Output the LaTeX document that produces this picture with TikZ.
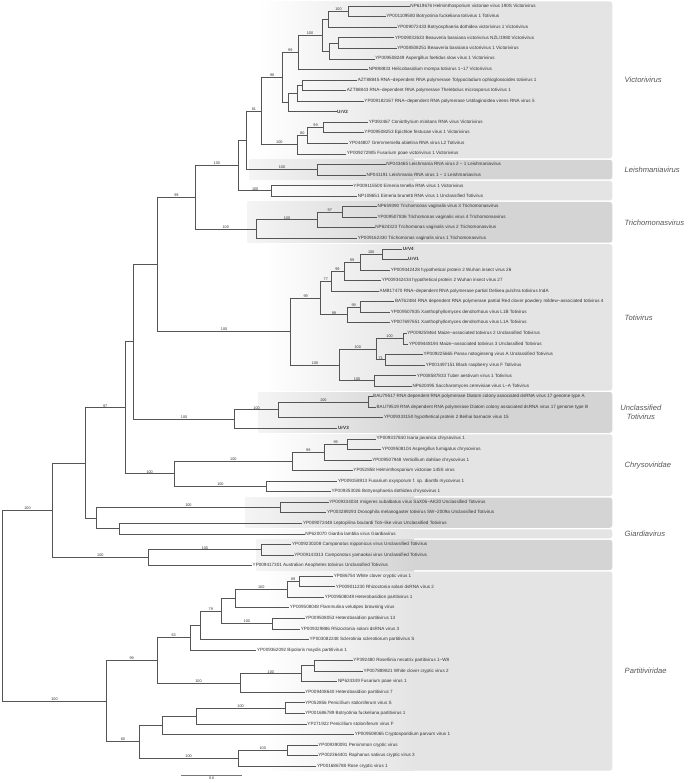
\documentclass[tikz,border=0pt]{standalone}
\usepackage{fontspec}
\setmainfont{Liberation Sans}
\usetikzlibrary{calc}
\definecolor{brc}{HTML}{555555}
\definecolor{txc}{HTML}{333333}
\definecolor{clc}{HTML}{555555}
\definecolor{bxl}{HTML}{E4E4E4}
\definecolor{bxd}{HTML}{D4D4D4}
\newcommand{\cladebox}[5]{%
  \shade[left color=#2, right color=#1] (#3,#4) rectangle (420,#5);
  \fill[#1] (419.5,#4) -- (610,#4) [rounded corners=2.5pt] -- (621,#4) -- (621,#5) -- (610,#5) [sharp corners] -- (419.5,#5) -- cycle;}
\begin{document}
\begin{tikzpicture}[x=0.986pt,y=-1pt,
  branch/.style={draw=brc, line width=0.55pt},
  leaf/.style={anchor=west, inner sep=0.5pt, font=\fontsize{4.6}{5}\selectfont, text=txc},
  bsv/.style={above, inner sep=0.3pt, font=\fontsize{3.8}{4}\selectfont, text=txc},
  clade/.style={anchor=west, font=\fontsize{7.6}{8.4}\selectfont\itshape, text=clc, align=center}]
\useasboundingbox (0pt,0pt) rectangle (687pt,-783pt);
% clade boxes
\cladebox{bxl}{white}{262}{1.5}{158.3}
\cladebox{bxd}{bxd!25}{253}{159.8}{179.4}
\cladebox{bxl}{white}{262}{180.9}{200.5}
\cladebox{bxd}{bxd!25}{251}{202}{242.75}
\cladebox{bxl}{white}{267}{244.25}{390.5}
\cladebox{bxd}{bxd!25}{262}{392}{432.75}
\cladebox{bxl}{white}{267}{434.25}{496.1}
\cladebox{bxd}{bxd!25}{249}{497.6}{527.75}
\cladebox{bxl}{white}{258}{529.25}{538.3}
\cladebox{bxd}{bxd!25}{260}{539.8}{570}
\cladebox{bxl}{white}{267}{571.5}{770.7}
% clade labels
\node[clade] (cv) at (630,80) {Victorivirus};
\node[clade] (cl) at (630,170.2) {Leishmaniavirus};
\node[clade] (ct) at (630,222.6) {Trichomonasvirus};
\node[clade] (cto) at (630,317.4) {Totivirus};
\node[clade,anchor=center] (cu) at (650,412.4) {Unclassified\\Totivirus};
\node[clade] (cc) at (630,465.2) {Chrysoviridae};
\node[clade] (cg) at (630,533.8) {Giardiavirus};
\node[clade] (cp) at (630,671.1) {Partitiviridae};
% leaves
\node[leaf] (l1) at (415.6,6.00) {NP619676 Helminthosporium victoriae virus 190S Victorivirus};
\node[leaf] (l2) at (391.1,16.56) {YP001109580 Botryotinia fuckeliana totivirus 1 Totivirus};
\node[leaf] (l3) at (402.2,27.11) {YP009072433 Botryosphaeria dothidea victorivirus 1 Victorivirus};
\node[leaf] (l4) at (400.0,37.67) {YP009032633 Beauveria bassiana victorivirus NZL/1980 Victorivirus};
\node[leaf] (l5) at (402.2,48.22) {YP008508251 Beauveria bassiana victorivirus 1 Victorivirus};
\node[leaf] (l6) at (380.0,58.78) {YP009508249 Aspergillus foetidus slow virus 1 Victorivirus};
\node[leaf] (l7) at (373.3,69.33) {NP898833 Helicobasidium mompa totivirus 1−17 Victorivirus};
\node[leaf] (l8) at (362.2,79.89) {AZT88845 RNA−dependent RNA polymerase Tolypocladium ophioglossoides totivirus 1};
\node[leaf] (l9) at (351.1,90.44) {AZT88843 RNA−dependent RNA polymerase Thelebolus microsporus totivirus 1};
\node[leaf] (l10) at (368.9,101.00) {YP009182167 RNA−dependent RNA polymerase Ustilaginoidea virens RNA virus 5};
\node[leaf] (l11) at (341.3,111.56) {\textbf{UrV2}};
\node[leaf] (l12) at (373.3,122.11) {YP392467 Coniothyrium minitans RNA virus Victorivirus};
\node[leaf] (l13) at (368.9,132.67) {YP009508253 Epichloe festucae virus 1 Victorivirus};
\node[leaf] (l14) at (353.3,143.22) {YP044807 Gremmeniella abietina RNA virus L2 Totivirus};
\node[leaf] (l15) at (351.1,153.78) {YP009272905 Fusarium poae victorivirus 1 Victorivirus};
\node[leaf] (l16) at (391.1,164.33) {NP043465 Leishmania RNA virus 2 − 1 Leishmaniavirus};
\node[leaf] (l17) at (371.1,174.89) {NP041191 Leishmania RNA virus 1 − 1 Leishmaniavirus};
\node[leaf] (l18) at (357.8,185.44) {YP009115500 Eimeria tenella RNA virus 1 Victorivirus};
\node[leaf] (l19) at (362.2,196.00) {NP108651 Eimeria brunetti RNA virus 1 Unclassified Totivirus};
\node[leaf] (l20) at (382.2,206.56) {NP659390 Trichomonas vaginalis virus 3 Trichomonasvirus};
\node[leaf] (l21) at (382.2,217.11) {YP009507836 Trichomonas vaginalis virus 4 Trichomonasvirus};
\node[leaf] (l22) at (380.0,227.67) {NP624323 Trichomonas vaginalis virus 2 Trichomonasvirus};
\node[leaf] (l23) at (362.2,238.22) {YP009162330 Trichomonas vaginalis virus 1 Trichomonasvirus};
\node[leaf] (l24) at (408.0,248.78) {\textbf{UrV4}};
\node[leaf] (l25) at (413.3,259.33) {\textbf{UrV1}};
\node[leaf] (l26) at (395.6,269.89) {YP009342428 hypothetical protein 2 Wuhan insect virus 26};
\node[leaf] (l27) at (386.7,280.44) {YP009342434 hypothetical protein 2 Wuhan insect virus 27};
\node[leaf] (l28) at (384.4,291.00) {AMB17470 RNA−dependent RNA polymerase partial Delisea pulchra totivirus IndA};
\node[leaf] (l29) at (400.0,301.56) {BAT62484 RNA dependent RNA polymerase partial Red clover powdery mildew−associated totivirus 4};
\node[leaf] (l30) at (395.6,312.11) {YP009507835 Xanthophyllomyces dendrorhous virus L1B Totivirus};
\node[leaf] (l31) at (395.6,322.67) {YP007697651 Xanthophyllomyces dendrorhous virus L1A Totivirus};
\node[leaf] (l32) at (412.4,333.22) {YP009259464 Maize−associated totivirus 2 Unclassified Totivirus};
\node[leaf] (l33) at (414.2,343.78) {YP009448194 Maize−associated totivirus 3 Unclassified Totivirus};
\node[leaf] (l34) at (428.9,354.33) {YP009225665 Panax notoginseng virus A Unclassified Totivirus};
\node[leaf] (l35) at (431.1,364.89) {YP001497151 Black raspberry virus F Totivirus};
\node[leaf] (l36) at (422.2,375.44) {YP008587833 Tuber aestivum virus 1 Totivirus};
\node[leaf] (l37) at (417.8,386.00) {NP620495 Saccharomyces cerevisiae virus L−A Totivirus};
\node[leaf] (l38) at (377.8,396.56) {BAU79517 RNA dependent RNA polymerase Diatom colony associated dsRNA virus 17 genome type A};
\node[leaf] (l39) at (381.3,407.11) {BAU79519 RNA dependent RNA polymerase Diatom colony associated dsRNA virus 17 genome type B};
\node[leaf] (l40) at (388.9,417.67) {YP009333150 hypothetical protein 2 Beihai barnacle virus 15};
\node[leaf] (l41) at (342.2,428.22) {\textbf{UrV3}};
\node[leaf] (l42) at (381.3,438.78) {YP009337840 Isaria javanica chrysovirus 1};
\node[leaf] (l43) at (386.7,449.33) {YP009508104 Aspergillus fumigatus chrysovirus};
\node[leaf] (l44) at (376.9,459.89) {YP009507948 Verticillium dahliae chrysovirus 1};
\node[leaf] (l45) at (357.8,470.44) {YP052858 Helminthosporium victoriae 145S virus};
\node[leaf] (l46) at (342.2,481.00) {YP009158913 Fusarium oxysporum f. sp. dianthi mycovirus 1};
\node[leaf] (l47) at (335.6,491.56) {YP009353026 Botryosphaeria dothidea chrysovirus 1};
\node[leaf] (l48) at (333.3,502.11) {YP009334034 rmigeres subalbatus virus SaX06−AK20 Unclassified Totivirus};
\node[leaf] (l49) at (331.1,512.67) {YP003289293 Drosophila melanogaster totivirus SW−2009a Unclassified Totivirus};
\node[leaf] (l50) at (306.7,523.22) {YP009072448 Leptopilina boulardi Toti−like virus Unclassified Totivirus};
\node[leaf] (l51) at (308.9,533.78) {NP620070 Giardia lamblia virus Giardiavirus};
\node[leaf] (l52) at (295.6,544.33) {YP009230208 Camponotus nipponicus virus Unclassified Totivirus};
\node[leaf] (l53) at (297.8,554.89) {YP009143313 Camponotus yamaokai virus Unclassified Totivirus};
\node[leaf] (l54) at (255.6,565.44) {YP009417301 Australian Anopheles totivirus Unclassified Totivirus};
\node[leaf] (l55) at (337.8,576.00) {YP086754 White clover cryptic virus 1};
\node[leaf] (l56) at (340.0,586.56) {YP009011230 Rhizoctonia solani dsRNA virus 2};
\node[leaf] (l57) at (328.9,597.11) {YP009508049 Heterobasidion partitivirus 1};
\node[leaf] (l58) at (293.3,607.67) {YP009508048 Flammulina velutipes browning virus};
\node[leaf] (l59) at (308.9,618.22) {YP009508053 Heterobasidion partitivirus 13};
\node[leaf] (l60) at (304.4,628.78) {YP009329886 Rhizoctonia solani dsRNA virus 3};
\node[leaf] (l61) at (313.3,639.33) {YP003082248 Sclerotinia sclerotiorum partitivirus S};
\node[leaf] (l62) at (260.0,649.89) {YP009362092 Bipolaris maydis partitivirus 1};
\node[leaf] (l63) at (357.8,660.44) {YP392480 Rosellinia necatrix partitivirus 1−W8};
\node[leaf] (l64) at (368.0,671.00) {YP007889821 White clover cryptic virus 2};
\node[leaf] (l65) at (342.2,681.56) {NP624349 Fusarium poae virus 1};
\node[leaf] (l66) at (308.9,692.11) {YP009408640 Heterobasidion partitivirus 7};
\node[leaf] (l67) at (308.9,702.67) {YP052856 Penicillium stoloniferum virus S};
\node[leaf] (l68) at (308.9,713.22) {YP001686789 Botryotinia fuckeliana partitivirus 1};
\node[leaf] (l69) at (311.1,723.78) {YP271922 Penicillium stoloniferum virus F};
\node[leaf] (l70) at (359.1,734.33) {YP009508065 Cryptosporidium parvum virus 1};
\node[leaf] (l71) at (322.2,744.89) {YP009390091 Persimmon cryptic virus};
\node[leaf] (l72) at (322.2,755.44) {YP002364401 Raphanus sativus cryptic virus 3};
\node[leaf] (l73) at (320.9,766.00) {YP001686788 Rose cryptic virus 1};
% internal nodes
\coordinate (A) at (353.3,11.28);
\coordinate (B) at (333.3,19.19);
\coordinate (C) at (343.1,42.94);
\coordinate (D) at (334.2,50.86);
\coordinate (E) at (326.7,35.03);
\coordinate (F) at (302.2,52.18);
\coordinate (I) at (306.7,85.17);
\coordinate (J) at (301.3,93.08);
\coordinate (K) at (292.4,102.32);
\coordinate (G) at (286.7,77.25);
\coordinate (Q) at (328.0,127.39);
\coordinate (R) at (312.0,135.31);
\coordinate (S) at (301.3,144.54);
\coordinate (N) at (265.3,110.90);
\coordinate (U) at (322.2,169.61);
\coordinate (V) at (249.8,140.25);
\coordinate (X) at (275.6,190.72);
\coordinate (W) at (242.0,165.49);
\coordinate (Z1) at (346.7,211.83);
\coordinate (Z2) at (322.2,219.75);
\coordinate (Z3) at (260.0,228.99);
\coordinate (Y) at (197.8,197.24);
\coordinate (T1) at (387.6,254.06);
\coordinate (T2) at (365.3,261.97);
\coordinate (T3) at (348.9,271.20);
\coordinate (T4) at (335.6,281.10);
\coordinate (T5) at (365.3,306.83);
\coordinate (T6) at (352.0,314.75);
\coordinate (T7) at (325.3,297.93);
\coordinate (M1) at (408.9,338.50);
\coordinate (M2) at (391.0,359.61);
\coordinate (M3) at (381.3,349.06);
\coordinate (M4) at (380.0,380.72);
\coordinate (M5) at (344.4,364.89);
\coordinate (T8) at (294.7,331.41);
\coordinate (AA) at (160.0,264.33);
\coordinate (U1) at (373.3,401.83);
\coordinate (U2) at (282.7,409.75);
\coordinate (U3) at (237.8,418.99);
\coordinate (BB) at (135.6,341.66);
\coordinate (C1) at (352.0,444.06);
\coordinate (C2) at (328.9,451.97);
\coordinate (C3) at (296.4,461.20);
\coordinate (C4) at (270.2,486.28);
\coordinate (C5) at (176.9,473.74);
\coordinate (CC) at (126.7,407.70);
\coordinate (G1) at (284.4,507.39);
\coordinate (G2) at (120.9,528.50);
\coordinate (G3) at (97.8,517.95);
\coordinate (DD) at (86.7,462.83);
\coordinate (K1) at (265.3,549.61);
\coordinate (K2) at (150.2,557.53);
\coordinate (EE) at (53.3,510.18);
\coordinate (P1) at (303.6,581.28);
\coordinate (P2) at (291.1,589.20);
\coordinate (P3) at (238.7,598.43);
\coordinate (P4) at (276.4,623.50);
\coordinate (P5) at (224.4,610.97);
\coordinate (P6) at (203.1,625.15);
\coordinate (P7) at (193.3,637.52);
\coordinate (R1) at (319.1,665.72);
\coordinate (R2) at (305.8,673.64);
\coordinate (R3) at (243.6,682.88);
\coordinate (P8) at (159.1,660.20);
\coordinate (S1) at (288.9,707.94);
\coordinate (S2) at (199.1,715.86);
\coordinate (S3) at (164.4,725.10);
\coordinate (S4) at (291.6,750.17);
\coordinate (S5) at (241.3,758.08);
\coordinate (S6) at (141.3,741.59);
\coordinate (PP) at (108.0,700.90);
\coordinate (root) at (2.5,605.54);
% branches
\draw[branch] (A) |- (l1.west); \draw[branch] (A) |- (l2.west);
\draw[branch] (B) |- node[bsv,pos=0.75]{100} (A); \draw[branch] (B) |- (l3.west);
\draw[branch] (C) |- (l4.west); \draw[branch] (C) |- (l5.west);
\draw[branch] (D) |- (C); \draw[branch] (D) |- (l6.west);
\draw[branch] (E) |- (B); \draw[branch] (E) |- (D);
\draw[branch] (F) |- node[bsv,pos=0.75]{100} (E); \draw[branch] (F) |- (l7.west);
\draw[branch] (I) |- (l8.west); \draw[branch] (I) |- (l9.west);
\draw[branch] (J) |- (I); \draw[branch] (J) |- (l10.west);
\draw[branch] (K) |- (J); \draw[branch] (K) |- (l11.west);
\draw[branch] (G) |- node[bsv,pos=0.75]{99} (F); \draw[branch] (G) |- (K);
\draw[branch] (Q) |- (l12.west); \draw[branch] (Q) |- (l13.west);
\draw[branch] (R) |- node[bsv,pos=0.75]{99} (Q); \draw[branch] (R) |- (l14.west);
\draw[branch] (S) |- node[bsv,pos=0.75]{80} (R); \draw[branch] (S) |- (l15.west);
\draw[branch] (N) |- node[bsv,pos=0.75]{98} (G); \draw[branch] (N) |- node[bsv,pos=0.75]{100} (S);
\draw[branch] (U) |- (l16.west); \draw[branch] (U) |- (l17.west);
\draw[branch] (V) |- node[bsv,pos=0.75]{81} (N); \draw[branch] (V) |- node[bsv,pos=0.75]{100} (U);
\draw[branch] (X) |- (l18.west); \draw[branch] (X) |- (l19.west);
\draw[branch] (W) |- (V); \draw[branch] (W) |- node[bsv,pos=0.75]{100} (X);
\draw[branch] (Z1) |- (l20.west); \draw[branch] (Z1) |- (l21.west);
\draw[branch] (Z2) |- node[bsv,pos=0.75]{97} (Z1); \draw[branch] (Z2) |- (l22.west);
\draw[branch] (Z3) |- node[bsv,pos=0.75]{100} (Z2); \draw[branch] (Z3) |- (l23.west);
\draw[branch] (Y) |- node[bsv,pos=0.75]{100} (W); \draw[branch] (Y) |- node[bsv,pos=0.75]{100} (Z3);
\draw[branch] (T1) |- (l24.west); \draw[branch] (T1) |- (l25.west);
\draw[branch] (T2) |- node[bsv,pos=0.75]{100} (T1); \draw[branch] (T2) |- (l26.west);
\draw[branch] (T3) |- node[bsv,pos=0.75]{99} (T2); \draw[branch] (T3) |- (l27.west);
\draw[branch] (T4) |- node[bsv,pos=0.75]{99} (T3); \draw[branch] (T4) |- (l28.west);
\draw[branch] (T5) |- (l29.west); \draw[branch] (T5) |- (l30.west);
\draw[branch] (T6) |- node[bsv,pos=0.75]{99} (T5); \draw[branch] (T6) |- (l31.west);
\draw[branch] (T7) |- node[bsv,pos=0.75]{77} (T4); \draw[branch] (T7) |- node[bsv,pos=0.75]{99} (T6);
\draw[branch] (M1) |- (l32.west); \draw[branch] (M1) |- (l33.west);
\draw[branch] (M2) |- (l34.west); \draw[branch] (M2) |- (l35.west);
\draw[branch] (M3) |- node[bsv,pos=0.75]{100} (M1); \draw[branch] (M3) |- node[bsv,pos=0.75]{71} (M2);
\draw[branch] (M4) |- (l36.west); \draw[branch] (M4) |- (l37.west);
\draw[branch] (M5) |- node[bsv,pos=0.75]{100} (M3); \draw[branch] (M5) |- node[bsv,pos=0.75]{100} (M4);
\draw[branch] (T8) |- node[bsv,pos=0.75]{99} (T7); \draw[branch] (T8) |- node[bsv,pos=0.75]{100} (M5);
\draw[branch] (AA) |- node[bsv,pos=0.75]{99} (Y); \draw[branch] (AA) |- node[bsv,pos=0.75]{100} (T8);
\draw[branch] (U1) |- (l38.west); \draw[branch] (U1) |- (l39.west);
\draw[branch] (U2) |- node[bsv,pos=0.75]{100} (U1); \draw[branch] (U2) |- (l40.west);
\draw[branch] (U3) |- node[bsv,pos=0.75]{100} (U2); \draw[branch] (U3) |- (l41.west);
\draw[branch] (BB) |- (AA); \draw[branch] (BB) |- node[bsv,pos=0.75]{100} (U3);
\draw[branch] (C1) |- (l42.west); \draw[branch] (C1) |- (l43.west);
\draw[branch] (C2) |- node[bsv,pos=0.75]{99} (C1); \draw[branch] (C2) |- (l44.west);
\draw[branch] (C3) |- node[bsv,pos=0.75]{99} (C2); \draw[branch] (C3) |- (l45.west);
\draw[branch] (C4) |- (l46.west); \draw[branch] (C4) |- (l47.west);
\draw[branch] (C5) |- node[bsv,pos=0.75]{100} (C3); \draw[branch] (C5) |- node[bsv,pos=0.75]{100} (C4);
\draw[branch] (CC) |- (BB); \draw[branch] (CC) |- node[bsv,pos=0.75]{100} (C5);
\draw[branch] (G1) |- (l48.west); \draw[branch] (G1) |- (l49.west);
\draw[branch] (G2) |- (l50.west); \draw[branch] (G2) |- (l51.west);
\draw[branch] (G3) |- node[bsv,pos=0.75]{100} (G1); \draw[branch] (G3) |- (G2);
\draw[branch] (DD) |- node[bsv,pos=0.75]{97} (CC); \draw[branch] (DD) |- (G3);
\draw[branch] (K1) |- (l52.west); \draw[branch] (K1) |- (l53.west);
\draw[branch] (K2) |- node[bsv,pos=0.75]{100} (K1); \draw[branch] (K2) |- (l54.west);
\draw[branch] (EE) |- (DD); \draw[branch] (EE) |- node[bsv,pos=0.75]{100} (K2);
\draw[branch] (P1) |- (l55.west); \draw[branch] (P1) |- (l56.west);
\draw[branch] (P2) |- node[bsv,pos=0.75]{69} (P1); \draw[branch] (P2) |- (l57.west);
\draw[branch] (P3) |- node[bsv,pos=0.75]{100} (P2); \draw[branch] (P3) |- (l58.west);
\draw[branch] (P4) |- (l59.west); \draw[branch] (P4) |- (l60.west);
\draw[branch] (P5) |- (P3); \draw[branch] (P5) |- node[bsv,pos=0.75]{100} (P4);
\draw[branch] (P6) |- node[bsv,pos=0.75]{79} (P5); \draw[branch] (P6) |- (l61.west);
\draw[branch] (P7) |- (P6); \draw[branch] (P7) |- (l62.west);
\draw[branch] (R1) |- (l63.west); \draw[branch] (R1) |- (l64.west);
\draw[branch] (R2) |- (R1); \draw[branch] (R2) |- (l65.west);
\draw[branch] (R3) |- node[bsv,pos=0.75]{100} (R2); \draw[branch] (R3) |- (l66.west);
\draw[branch] (P8) |- node[bsv,pos=0.75]{63} (P7); \draw[branch] (P8) |- node[bsv,pos=0.75]{100} (R3);
\draw[branch] (S1) |- (l67.west); \draw[branch] (S1) |- (l68.west);
\draw[branch] (S2) |- node[bsv,pos=0.75]{100} (S1); \draw[branch] (S2) |- (l69.west);
\draw[branch] (S3) |- (S2); \draw[branch] (S3) |- (l70.west);
\draw[branch] (S4) |- (l71.west); \draw[branch] (S4) |- (l72.west);
\draw[branch] (S5) |- node[bsv,pos=0.75]{100} (S4); \draw[branch] (S5) |- (l73.west);
\draw[branch] (S6) |- (S3); \draw[branch] (S6) |- node[bsv,pos=0.75]{100} (S5);
\draw[branch] (PP) |- node[bsv,pos=0.75]{99} (P8); \draw[branch] (PP) |- node[bsv,pos=0.75]{60} (S6);
\draw[branch] (root) |- node[bsv,pos=0.75]{100} (EE); \draw[branch] (root) |- node[bsv,pos=0.75]{100} (PP);
% scale bar
\coordinate (sb1) at (183.6,775);
\coordinate (sb2) at (245.8,775);
\draw[draw=brc!80, line width=0.9pt] (sb1) -- (sb2);
\node[bsv, below, inner sep=1.2pt] (sbl) at ($(sb1)!0.5!(sb2)$) {0.6};
\end{tikzpicture}
\end{document}
